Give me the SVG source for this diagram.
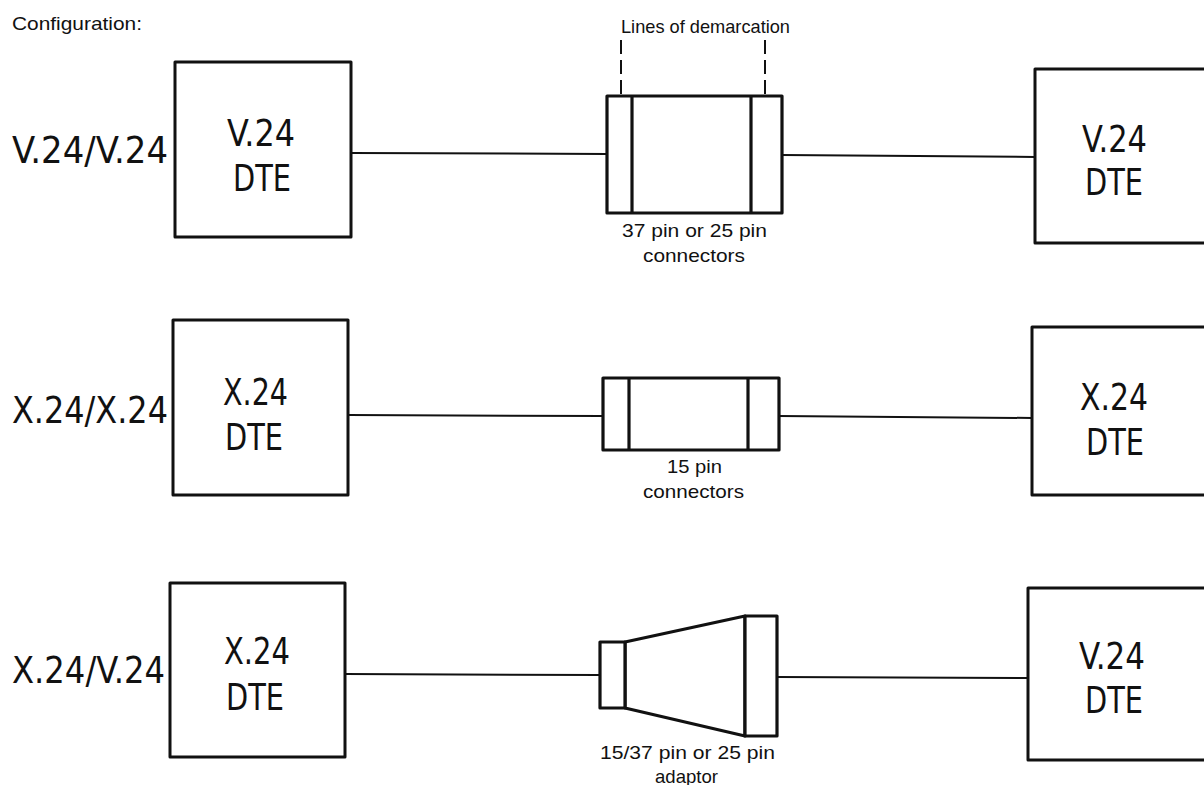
<svg xmlns="http://www.w3.org/2000/svg" width="1204" height="785" viewBox="0 0 1204 785">
<style>
.box{fill:#fff;stroke:#111;stroke-width:3;stroke-linejoin:round}
.con{fill:#fff;stroke:#111;stroke-width:3.2;stroke-linejoin:round}
.wire{stroke:#111;stroke-width:2;fill:none}
.dash{stroke:#111;stroke-width:2;stroke-dasharray:14,6;fill:none}
.big{font-family:"DejaVu Sans Condensed","DejaVu Sans",sans-serif;font-stretch:condensed;font-size:38px;fill:#111}
.small{font-family:"Liberation Sans",Arial,sans-serif;font-size:19px;fill:#111}
</style>
<rect width="1204" height="785" fill="#fff"/>
<text class="small" x="12" y="30" textLength="130" lengthAdjust="spacingAndGlyphs">Configuration:</text>
<g id="labels">
<text class="big" x="12" y="163" textLength="156" lengthAdjust="spacingAndGlyphs">V.24/V.24</text>
<text class="big" x="12" y="423" textLength="156" lengthAdjust="spacingAndGlyphs">X.24/X.24</text>
<text class="big" x="12" y="683" textLength="153" lengthAdjust="spacingAndGlyphs">X.24/V.24</text>
</g>
<g id="connectors">
<line class="wire" x1="351" y1="153" x2="607" y2="154"/>
<line class="wire" x1="782" y1="155" x2="1035" y2="157"/>
<line class="wire" x1="348" y1="415" x2="603" y2="416"/>
<line class="wire" x1="779" y1="416" x2="1032" y2="418"/>
<line class="wire" x1="345" y1="674" x2="600" y2="675"/>
<line class="wire" x1="777" y1="677" x2="1028" y2="678"/>
</g>
<g id="dte-v24-left-1">
<rect class="box" x="175" y="62" width="176" height="175"/>
<text class="big" x="227" y="146" textLength="68" lengthAdjust="spacingAndGlyphs">V.24</text>
<text class="big" x="233" y="191" textLength="58" lengthAdjust="spacingAndGlyphs">DTE</text>
</g>
<g id="dte-v24-right-1">
<rect class="box" x="1035" y="69" width="200" height="174"/>
<text class="big" x="1082" y="152" textLength="65" lengthAdjust="spacingAndGlyphs">V.24</text>
<text class="big" x="1085" y="195" textLength="58" lengthAdjust="spacingAndGlyphs">DTE</text>
</g>
<g id="connector-1">
<rect class="con" x="607" y="96" width="175" height="117"/>
<line class="con" x1="632" y1="96" x2="632" y2="213"/>
<line class="con" x1="751" y1="96" x2="751" y2="213"/>
<line class="dash" x1="621" y1="40" x2="621" y2="96"/>
<line class="dash" x1="765" y1="40" x2="765" y2="96"/>
<text class="small" x="621" y="33" textLength="169" lengthAdjust="spacingAndGlyphs">Lines of demarcation</text>
<text class="small" x="622" y="237" textLength="145" lengthAdjust="spacingAndGlyphs">37 pin or 25 pin</text>
<text class="small" x="643" y="262" textLength="102" lengthAdjust="spacingAndGlyphs">connectors</text>
</g>
<g id="dte-x24-left-2">
<rect class="box" x="173" y="320" width="175" height="175"/>
<text class="big" x="223" y="405" textLength="65" lengthAdjust="spacingAndGlyphs">X.24</text>
<text class="big" x="225" y="450" textLength="58" lengthAdjust="spacingAndGlyphs">DTE</text>
</g>
<g id="dte-x24-right-2">
<rect class="box" x="1032" y="327" width="200" height="168"/>
<text class="big" x="1080" y="410" textLength="68" lengthAdjust="spacingAndGlyphs">X.24</text>
<text class="big" x="1086" y="455" textLength="58" lengthAdjust="spacingAndGlyphs">DTE</text>
</g>
<g id="connector-2">
<rect class="con" x="603" y="378" width="176" height="72"/>
<line class="con" x1="629" y1="378" x2="629" y2="450"/>
<line class="con" x1="748" y1="378" x2="748" y2="450"/>
<text class="small" x="667" y="473" textLength="55" lengthAdjust="spacingAndGlyphs">15 pin</text>
<text class="small" x="643" y="498" textLength="101" lengthAdjust="spacingAndGlyphs">connectors</text>
</g>
<g id="dte-x24-left-3">
<rect class="box" x="170" y="583" width="175" height="174"/>
<text class="big" x="224" y="664" textLength="66" lengthAdjust="spacingAndGlyphs">X.24</text>
<text class="big" x="226" y="710" textLength="58" lengthAdjust="spacingAndGlyphs">DTE</text>
</g>
<g id="dte-v24-right-3">
<rect class="box" x="1028" y="588" width="200" height="172"/>
<text class="big" x="1079" y="669" textLength="66" lengthAdjust="spacingAndGlyphs">V.24</text>
<text class="big" x="1085" y="713" textLength="58" lengthAdjust="spacingAndGlyphs">DTE</text>
</g>
<g id="adaptor-3">
<polygon class="con" points="625,642 745,616 745,736 625,708"/>
<rect class="con" x="600" y="642" width="25" height="66"/>
<rect class="con" x="745" y="616" width="32" height="120"/>
<text class="small" x="600" y="759" textLength="175" lengthAdjust="spacingAndGlyphs">15/37 pin or 25 pin</text>
<text class="small" x="655" y="783" textLength="63" lengthAdjust="spacingAndGlyphs">adaptor</text>
</g>
</svg>
